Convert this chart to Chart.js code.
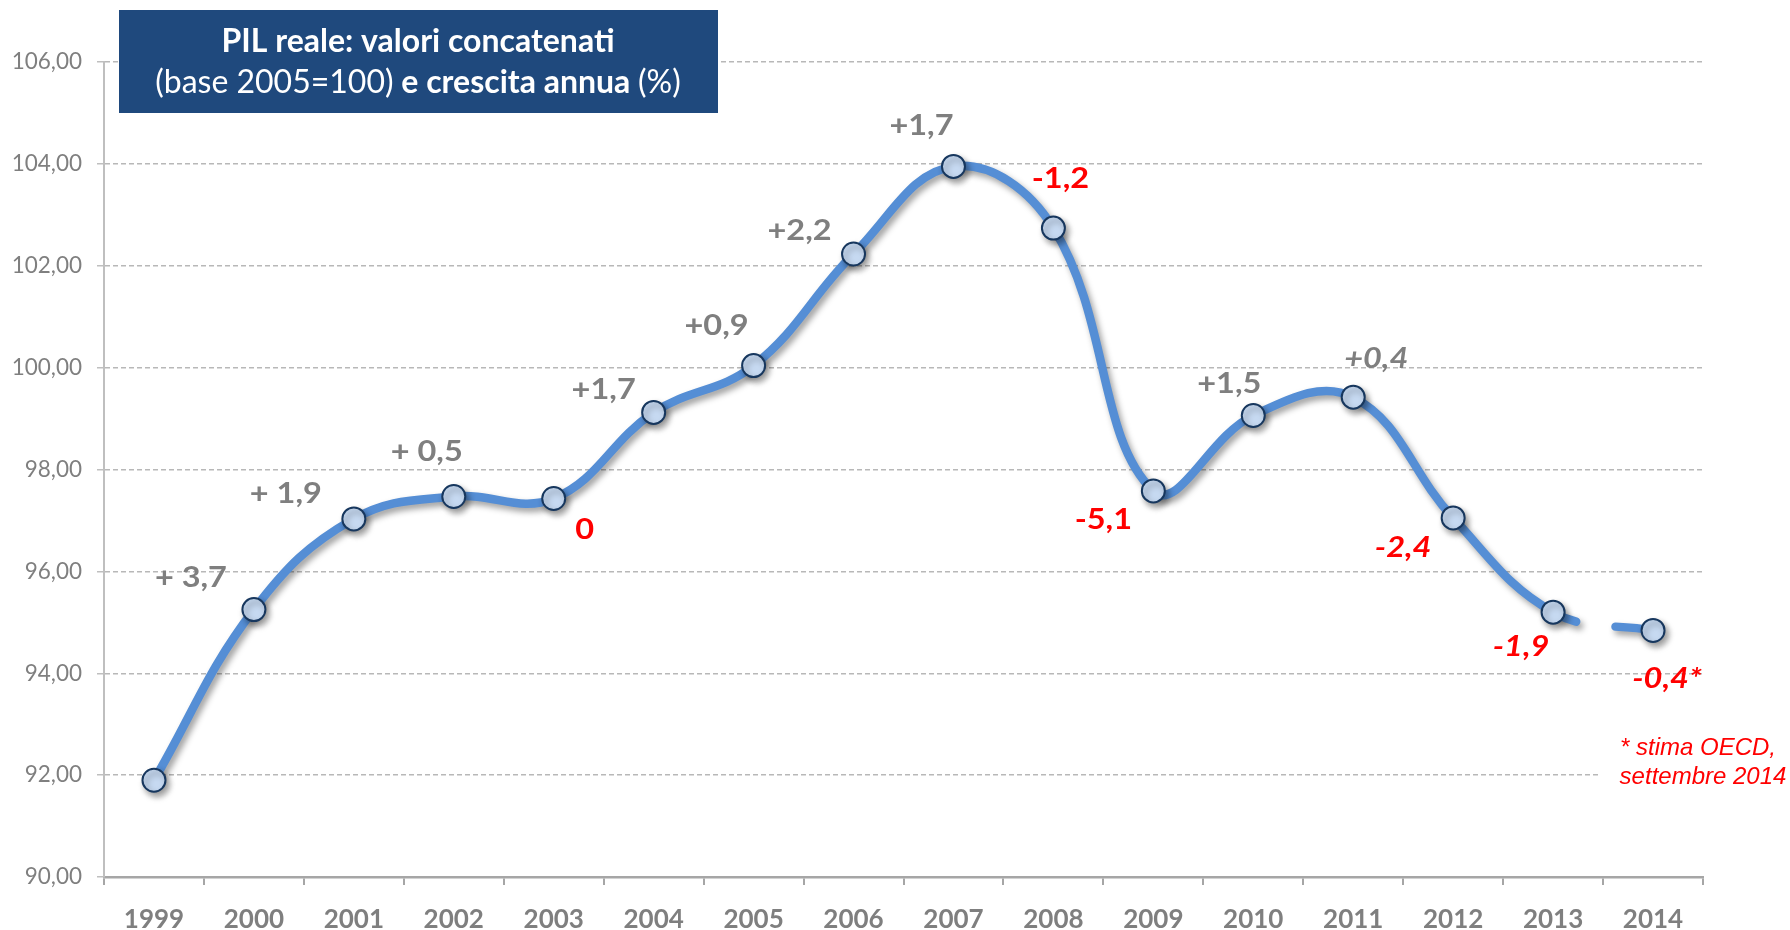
<!DOCTYPE html>
<html>
<head>
<meta charset="utf-8">
<script src="https://cdn.jsdelivr.net/npm/chart.js"></script>
<style>
  html,body{margin:0;padding:0;background:#fff}
  #wrap{width:1790px;height:930px;position:relative}
</style>
</head>
<body>
<div id="wrap"><canvas id="pil"></canvas></div>
<script>
// dati (PIL reale, base 2005=100)
const anni = ['1999','2000','2001','2002','2003','2004','2005','2006','2007','2008','2009','2010','2011','2012','2013','2014'];
const pil = [91.90, 95.25, 97.03, 97.47, 97.43, 99.12, 100.04, 102.23, 103.95, 102.74, 97.58, 99.06, 99.42, 97.05, 95.20, 94.84];
const crescita = ['', '+ 3,7', '+ 1,9', '+ 0,5', '0', '+1,7', '+0,9', '+2,2', '+1,7', '-1,2', '-5,1', '+1,5', '+0,4', '-2,4', '-1,9', '-0,4*'];
const yTicks = [90, 92, 94, 96, 98, 100, 102, 104, 106];

// dove mettere le etichette rispetto al punto (px)
const labelOff = [[0,0],[-63,-32],[-68,-25],[-27,-45],[31,31],[-50,-23],[-37,-40],[-54,-23],[-32,-41],[7,-49],[-50,29],[-24,-32],[23,-39],[-50,30],[-32,35],[14,48]];
const primoStimato = 12; // da qui in poi le etichette sono in corsivo

const GRIGIO = '#7f7f7f', ROSSO = '#ff0000';
const FONT = 'Lato, "Open Sans", sans-serif';

const ombra = {
  id:'ombra',
  beforeDatasetsDraw(c){ const x=c.ctx; x.save();
    x.shadowColor='rgba(0,0,0,0.38)'; x.shadowBlur=6; x.shadowOffsetX=3; x.shadowOffsetY=4; },
  afterDatasetsDraw(c){ c.ctx.restore(); }
};

const etichette = {
  id:'etichette',
  afterDraw(c){
    const x=c.ctx, pts=c.getDatasetMeta(0).data;
    x.save();
    x.textAlign='center'; x.textBaseline='middle';
    pts.forEach((p,i)=>{
      const t=crescita[i]; if(!t) return;
      x.save();
      x.translate(p.x+labelOff[i][0], p.y+labelOff[i][1]);
      x.scale(1.12,1);
      x.font=(i>=primoStimato?'italic ':'')+'bold 29px '+FONT;
      x.fillStyle=(t[0]==='-'||t==='0')?ROSSO:GRIGIO;
      x.fillText(t, 0, 0);
      x.restore();
    });

    // riquadro titolo
    x.fillStyle='#1f497d';
    x.fillRect(119,10,599,103);
    x.fillStyle='#fff';
    x.font='bold 32px '+FONT;
    x.fillText('PIL reale: valori concatenati', 418, 42);
    const parti=[['(base 2005=100)',''],[' e crescita annua ','bold '],['(%)','']];
    let w=0;
    parti.forEach(q=>{ x.font=q[1]+'32px '+FONT; w+=x.measureText(q[0]).width; });
    let cx=418-w/2; x.textAlign='left';
    parti.forEach(q=>{ x.font=q[1]+'32px '+FONT; x.fillText(q[0], cx, 83); cx+=x.measureText(q[0]).width; });

    // nota
    x.fillStyle='#fff';
    x.fillRect(1598,733,192,58);
    x.fillStyle=ROSSO; x.textAlign='center';
    x.font='italic 24px "Liberation Sans", Arial, sans-serif';
    x.fillText('* stima OECD,', 1698, 748);
    x.fillText('settembre 2014', 1703, 777);
    x.restore();
  }
};

new Chart(document.getElementById('pil'), {
  type:'line',
  data:{ labels:anni, datasets:[{
    data:pil,
    borderColor:'#558ed5', borderWidth:8.5, tension:0.4,
    borderCapStyle:'round', borderJoinStyle:'round',
    pointRadius:11.5, pointHoverRadius:11.5,
    pointBackgroundColor:'#c6d9f1', pointBorderColor:'#17375e', pointBorderWidth:2,
    segment:{ borderDash: s => s.p0DataIndex===pil.length-2 ? [25,40,300] : undefined }
  }]},
  options:{
    responsive:true, maintainAspectRatio:false, animation:false,
    layout:{ padding:{ top:62, right:87, left:0, bottom:0 } },
    plugins:{ legend:{display:false}, tooltip:{enabled:false} },
    events:[],
    scales:{
      x:{
        offset:true,
        grid:{ display:true, drawOnChartArea:false, offset:true, tickLength:8, color:'#a6a6a6', lineWidth:2 },
        border:{ color:'#a6a6a6', width:2.5 },
        ticks:{ color:GRIGIO, padding:19, font:{ family:FONT, size:26, weight:'bold' } },
        afterFit:s=>{ s.height=53; }
      },
      y:{
        min:yTicks[0], max:yTicks[yTicks.length-1],
        afterBuildTicks:s=>{ s.ticks=yTicks.map(v=>({value:v})); },
        grid:{ color:'#b8b8b8', lineWidth:1.5, tickLength:7, tickColor:'#bfbfbf', tickBorderDash:[] },
        border:{ color:'#bfbfbf', width:2, dash:[5,3] },
        ticks:{ color:GRIGIO, padding:15, font:{ family:FONT, size:22.5 },
          callback:v=>v.toFixed(2).replace('.',',') },
        afterFit:s=>{ s.width=104; }
      }
    }
  },
  plugins:[ombra, etichette]
});
</script>
</body>
</html>
